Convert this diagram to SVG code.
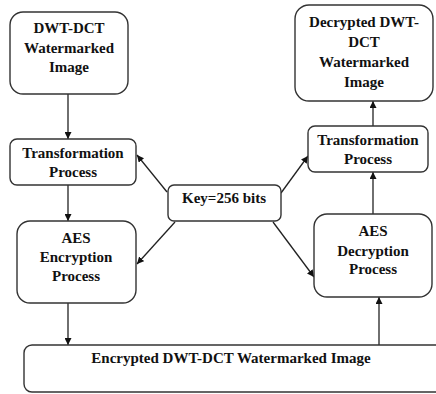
<svg xmlns="http://www.w3.org/2000/svg" width="436" height="394" viewBox="0 0 436 394">
<style>
.box{fill:#fff;stroke:#333;stroke-width:1.4}
.t{font-family:"Liberation Serif","Times New Roman",serif;font-weight:bold;font-size:15px;fill:#111;text-anchor:middle}
.c{stroke:#222;stroke-width:1.3;fill:none;marker-end:url(#ah)}
</style>
<defs>
<marker id="ah" viewBox="0 0 10 10" refX="10" refY="5" markerWidth="7" markerHeight="7" markerUnits="userSpaceOnUse" orient="auto">
<path d="M0,0 L10,5 L0,10 z" fill="#111"/>
</marker>
</defs>
<rect width="436" height="394" fill="#fff"/>
<g id="connectors">
<line class="c" x1="68" y1="94" x2="68" y2="139"/>
<line class="c" x1="68" y1="185" x2="68" y2="221"/>
<line class="c" x1="68" y1="303" x2="68" y2="345"/>
<line class="c" x1="167" y1="192" x2="137" y2="155"/>
<line class="c" x1="175" y1="222" x2="137" y2="264"/>
<line class="c" x1="281" y1="193" x2="308" y2="156"/>
<line class="c" x1="273" y1="222" x2="314" y2="277"/>
<line class="c" x1="379" y1="345" x2="379" y2="297"/>
<line class="c" x1="373" y1="214" x2="373" y2="172"/>
<line class="c" x1="373" y1="126" x2="373" y2="101"/>
</g>
<g id="n1">
<rect class="box" x="10" y="12" width="118" height="82" rx="13"/>
<text class="t" x="69" y="33">DWT-DCT</text>
<text class="t" x="69" y="53">Watermarked</text>
<text class="t" x="69" y="72">Image</text>
</g>
<g id="n2">
<rect class="box" x="10" y="139" width="126" height="46" rx="7"/>
<text class="t" x="73" y="158">Transformation</text>
<text class="t" x="73" y="177">Process</text>
</g>
<g id="n3">
<rect class="box" x="17" y="221" width="119" height="82" rx="13"/>
<text class="t" x="76" y="243">AES</text>
<text class="t" x="76" y="262">Encryption</text>
<text class="t" x="76" y="281">Process</text>
</g>
<g id="n4">
<rect class="box" x="24" y="345" width="420" height="47" rx="8"/>
<text class="t" x="231" y="363">Encrypted DWT-DCT Watermarked Image</text>
</g>
<g id="key">
<rect class="box" x="168" y="185" width="113" height="36" rx="6"/>
<text class="t" x="224" y="203">Key=256 bits</text>
</g>
<g id="n5">
<rect class="box" x="314" y="214" width="118" height="83" rx="13"/>
<text class="t" x="373" y="236">AES</text>
<text class="t" x="373" y="256">Decryption</text>
<text class="t" x="373" y="274">Process</text>
</g>
<g id="n6">
<rect class="box" x="308" y="126" width="120" height="46" rx="7"/>
<text class="t" x="368" y="145">Transformation</text>
<text class="t" x="368" y="164">Process</text>
</g>
<g id="n7">
<rect class="box" x="295" y="5" width="138" height="96" rx="14"/>
<text class="t" x="364" y="27">Decrypted DWT-</text>
<text class="t" x="364" y="47">DCT</text>
<text class="t" x="364" y="67">Watermarked</text>
<text class="t" x="364" y="87">Image</text>
</g>
</svg>
